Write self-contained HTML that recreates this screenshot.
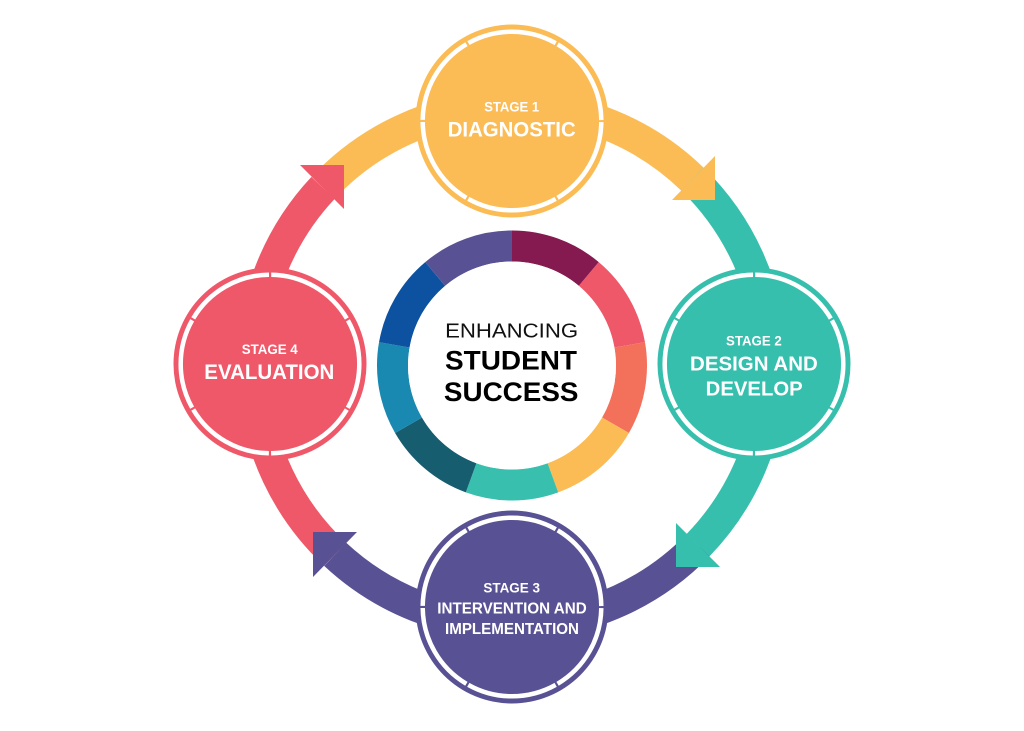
<!DOCTYPE html>
<html>
<head>
<meta charset="utf-8">
<style>
  html,body{margin:0;padding:0;background:#fff;}
  svg{display:block;}
  text{font-family:"Liberation Sans",Arial,sans-serif;}
</style>
</head>
<body>
<svg width="1024" height="731" viewBox="0 0 1024 731" xmlns="http://www.w3.org/2000/svg">
  <rect width="1024" height="731" fill="#fff"/>

  <!-- big ring bands -->
  <g fill="none" stroke-width="32">
    <path d="M 323.0 187.9 A 259 259 0 0 1 692.4 179.1" stroke="#fbbc56"/>
    <path d="M 692.4 179.1 A 259 259 0 0 1 698.1 545.1" stroke="#37bfae"/>
    <path d="M 698.1 545.1 A 259 259 0 0 1 335.2 554.3" stroke="#585294"/>
    <path d="M 335.2 554.3 A 259 259 0 0 1 323.0 187.9" stroke="#ef5869"/>
  </g>

  <!-- arrowheads -->
  <polygon points="715,156 715,200 672,200" fill="#fbbc56"/>
  <polygon points="676,523 676,567 720,567" fill="#37bfae"/>
  <polygon points="313,577 313,532 357,532" fill="#585294"/>
  <polygon points="344,209 344,165 300,165" fill="#ef5869"/>

  <!-- center segmented ring -->
  <g fill="none" stroke-width="31">
    <path d="M 512 246 A 119.5 119.5 0 0 1 588.8 274.0" stroke="#851a50"/>
    <path d="M 588.8 274.0 A 119.5 119.5 0 0 1 629.7 344.8" stroke="#ef5869"/>
    <path d="M 629.7 344.8 A 119.5 119.5 0 0 1 615.5 425.25" stroke="#f3705b"/>
    <path d="M 615.5 425.25 A 119.5 119.5 0 0 1 552.9 477.8" stroke="#fbbc56"/>
    <path d="M 552.9 477.8 A 119.5 119.5 0 0 1 471.1 477.8" stroke="#38bfae"/>
    <path d="M 471.1 477.8 A 119.5 119.5 0 0 1 408.5 425.25" stroke="#175d70"/>
    <path d="M 408.5 425.25 A 119.5 119.5 0 0 1 394.3 344.8" stroke="#1a89b1"/>
    <path d="M 394.3 344.8 A 119.5 119.5 0 0 1 435.2 274.0" stroke="#0c52a0"/>
    <path d="M 435.2 274.0 A 119.5 119.5 0 0 1 512 246" stroke="#585294"/>
  </g>
  <circle cx="512" cy="365.5" r="104" fill="#fff"/>

  <!-- center text -->
  <text x="511.6" y="337.3" font-size="20" text-anchor="middle" fill="#111" textLength="133" lengthAdjust="spacingAndGlyphs">ENHANCING</text>
  <text x="511" y="369.5" font-size="27" font-weight="bold" text-anchor="middle" fill="#000" textLength="132" lengthAdjust="spacingAndGlyphs">STUDENT</text>
  <text x="511.2" y="401.2" font-size="27" font-weight="bold" text-anchor="middle" fill="#000" textLength="134.5" lengthAdjust="spacingAndGlyphs">SUCCESS</text>

  <!-- Stage 1 -->
  <g>
    <circle cx="512" cy="121" r="96.5" fill="#fbbc56"/>
    <circle cx="512" cy="121" r="89.3" fill="none" stroke="#fff" stroke-width="4.5" stroke-dasharray="91.3 2.2" stroke-dashoffset="-1.1"/>
    <text x="511.7" y="111.7" font-size="14" font-weight="bold" text-anchor="middle" fill="#fff" textLength="55" lengthAdjust="spacingAndGlyphs">STAGE 1</text>
    <text x="511.7" y="136.7" font-size="21" font-weight="bold" text-anchor="middle" fill="#fff" textLength="128" lengthAdjust="spacingAndGlyphs">DIAGNOSTIC</text>
  </g>

  <!-- Stage 2 -->
  <g>
    <circle cx="754" cy="364" r="96.5" fill="#37bfae"/>
    <circle cx="754" cy="364" r="89.3" fill="none" stroke="#fff" stroke-width="4.5" stroke-dasharray="91.3 2.2" stroke-dashoffset="-1.1" transform="rotate(30 754 364)"/>
    <text x="753.9" y="345.7" font-size="14" font-weight="bold" text-anchor="middle" fill="#fff" textLength="55.7" lengthAdjust="spacingAndGlyphs">STAGE 2</text>
    <text x="753.9" y="370.7" font-size="20" font-weight="bold" text-anchor="middle" fill="#fff" textLength="127.7" lengthAdjust="spacingAndGlyphs">DESIGN AND</text>
    <text x="754.2" y="395.7" font-size="20" font-weight="bold" text-anchor="middle" fill="#fff" textLength="97" lengthAdjust="spacingAndGlyphs">DEVELOP</text>
  </g>

  <!-- Stage 3 -->
  <g>
    <circle cx="512" cy="607" r="96.5" fill="#585294"/>
    <circle cx="512" cy="607" r="89.3" fill="none" stroke="#fff" stroke-width="4.5" stroke-dasharray="91.3 2.2" stroke-dashoffset="-1.1"/>
    <text x="511.7" y="592.3" font-size="14" font-weight="bold" text-anchor="middle" fill="#fff" textLength="56.7" lengthAdjust="spacingAndGlyphs">STAGE 3</text>
    <text x="512" y="613.3" font-size="16" font-weight="bold" text-anchor="middle" fill="#fff" textLength="149.4" lengthAdjust="spacingAndGlyphs">INTERVENTION AND</text>
    <text x="512" y="634" font-size="16" font-weight="bold" text-anchor="middle" fill="#fff" textLength="134" lengthAdjust="spacingAndGlyphs">IMPLEMENTATION</text>
  </g>

  <!-- Stage 4 -->
  <g>
    <circle cx="270" cy="364" r="96.5" fill="#ef5869"/>
    <circle cx="270" cy="364" r="89.3" fill="none" stroke="#fff" stroke-width="4.5" stroke-dasharray="91.3 2.2" stroke-dashoffset="-1.1" transform="rotate(30 270 364)"/>
    <text x="269.7" y="354" font-size="14" font-weight="bold" text-anchor="middle" fill="#fff" textLength="56" lengthAdjust="spacingAndGlyphs">STAGE 4</text>
    <text x="269.3" y="379" font-size="21" font-weight="bold" text-anchor="middle" fill="#fff" textLength="130" lengthAdjust="spacingAndGlyphs">EVALUATION</text>
  </g>
</svg>
</body>
</html>
